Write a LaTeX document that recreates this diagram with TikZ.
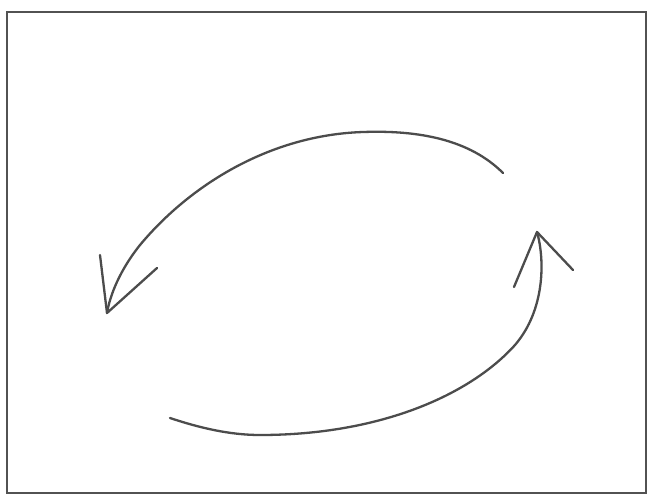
\documentclass[tikz,border=0pt]{standalone}
\begin{document}
\begin{tikzpicture}[x=1pt,y=-1pt,
  frame/.style={draw=black!68,line width=2.6pt},
  sketch/.style={draw=black!70,line width=2.3pt,line cap=round,line join=round}]
\useasboundingbox[fill=white] (0,0) rectangle (657,499);
\coordinate (bl) at (7,493);
\coordinate (tr) at (646,12);
\draw[frame] (bl) rectangle (tr);
% top arrow
\coordinate (s1) at (503,173);
\coordinate (m1) at (363,132);
\coordinate (n1) at (140,245);
\coordinate (t1) at (107,313);
\coordinate (b1a) at (100,255);
\coordinate (b1b) at (157,268);
\draw[sketch] (s1) .. controls (470,140) and (420,130) .. (m1)
  .. controls (270,135) and (190,185) .. (n1)
  .. controls (120,270) and (110,295) .. (t1);
\draw[sketch] (b1a) -- (t1) -- (b1b);
% bottom arrow
\coordinate (s2) at (170,418);
\coordinate (m2) at (260,435);
\coordinate (n2) at (515,345);
\coordinate (t2) at (537,232);
\coordinate (b2a) at (514,287);
\coordinate (b2b) at (573,270);
\draw[sketch] (s2) .. controls (200,428) and (230,435) .. (m2)
  .. controls (380,435) and (470,395) .. (n2)
  .. controls (545,310) and (545,260) .. (t2);
\draw[sketch] (b2a) -- (t2) -- (b2b);
\end{tikzpicture}
\end{document}
